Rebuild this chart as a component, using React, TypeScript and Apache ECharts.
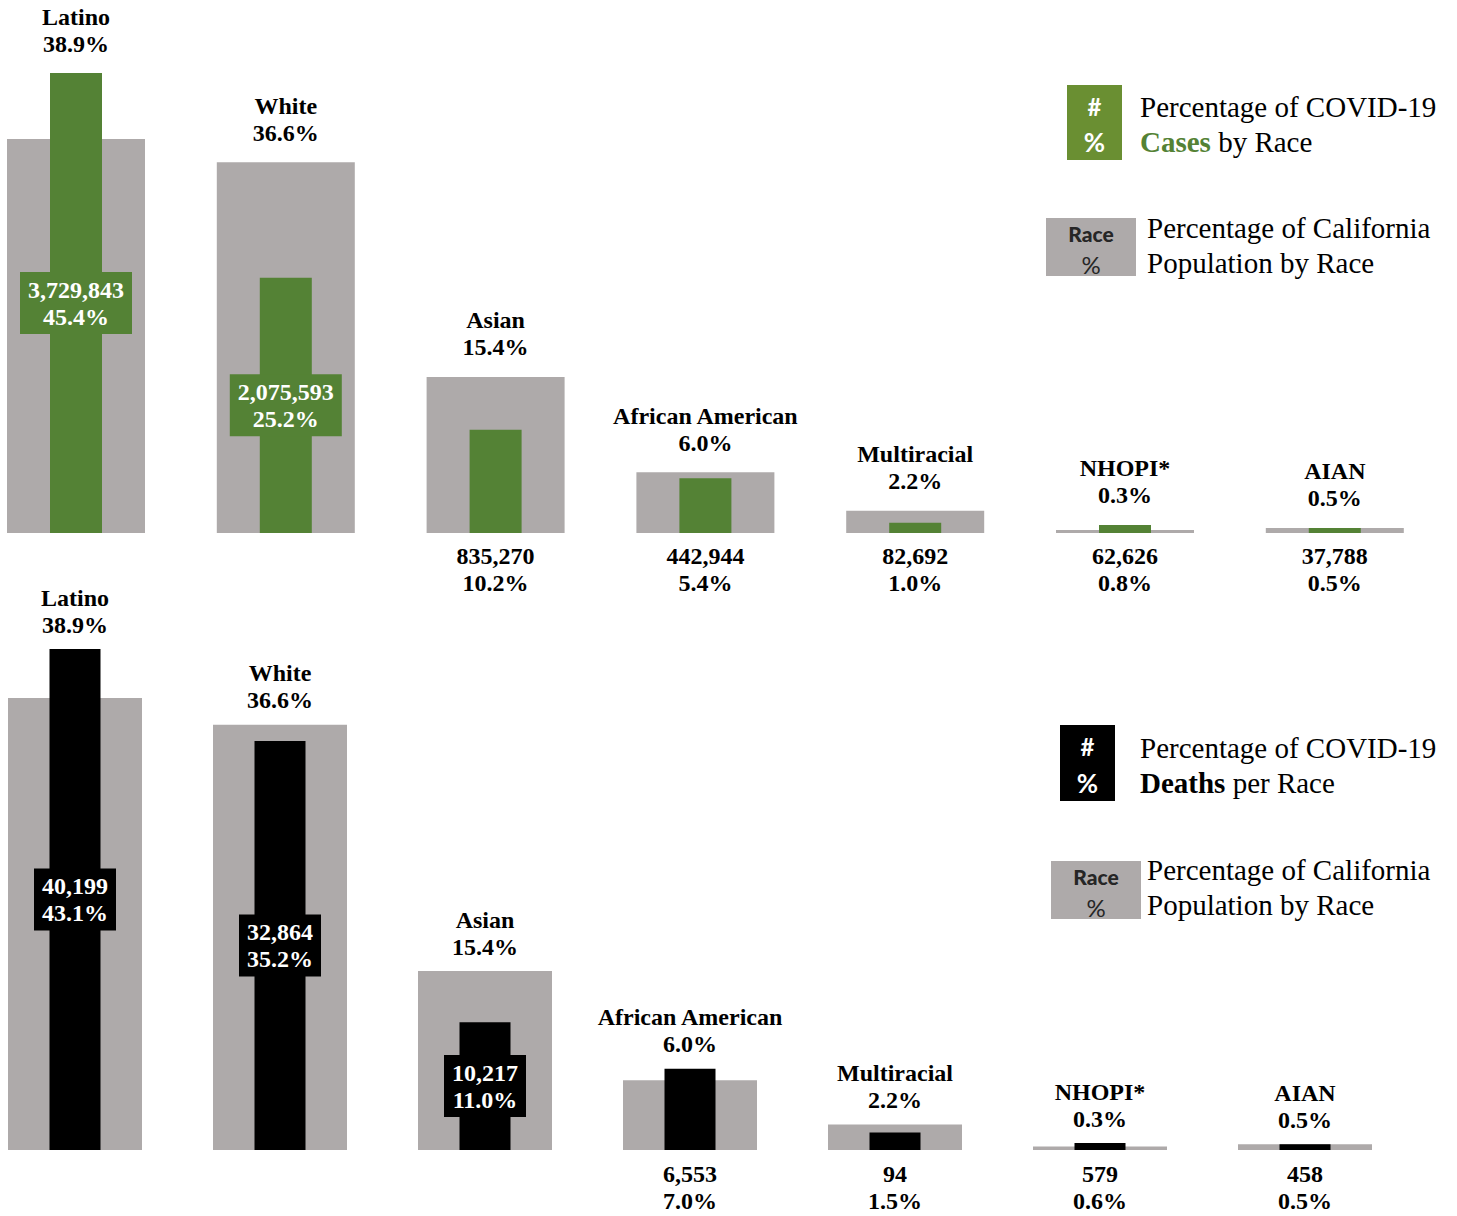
import React, { useEffect, useRef } from "react";
import * as echarts from "echarts";

const races = ["Latino", "White", "Asian", "African American", "Multiracial", "NHOPI*", "AIAN"];
const popPct = [38.9, 36.6, 15.4, 6.0, 2.2, 0.3, 0.5];
const caseCounts = [3729843, 2075593, 835270, 442944, 82692, 62626, 37788];
const casePct = [45.4, 25.2, 10.2, 5.4, 1.0, 0.8, 0.5];
const deathCounts = [40199, 32864, 10217, 6553, 94, 579, 458];
const deathPct = [43.1, 35.2, 11.0, 7.0, 1.5, 0.6, 0.5];

const GREEN = "#548235";
const LEGEND_GREEN = "#6a8f32";
const GRAY = "#aeaaaa";
const BLACK = "#000000";
const SERIF = "Liberation Serif";
const SANS = "Lato";

const fmt = (n: number) => n.toLocaleString("en-US");

function panel(
  p: number,
  counts: number[],
  pcts: number[],
  color: string,
  insideMin: number,
  bottomDist: number,
  topDist: number,
  barW: number,
  grayW: number
) {
  const ax = p * 3;
  const labelBase = {
    show: true,
    fontFamily: SERIF,
    fontWeight: "bold" as const,
    fontSize: 24,
    lineHeight: 27,
    color: "#000",
  };
  return [
    {
      type: "bar",
      xAxisIndex: ax,
      yAxisIndex: p,
      data: popPct,
      barWidth: grayW,
      itemStyle: { color: GRAY },
      z: 1,
      silent: true,
    },
    {
      type: "bar",
      xAxisIndex: ax + 1,
      yAxisIndex: p,
      barWidth: barW,
      itemStyle: { color },
      z: 3,
      silent: true,
      label: {
        ...labelBase,
        formatter: (q: any) => fmt(counts[q.dataIndex]) + "\n" + pcts[q.dataIndex].toFixed(1) + "%",
      },
      data: pcts.map((v) =>
        v >= insideMin
          ? {
              value: v,
              label: {
                position: "inside",
                backgroundColor: color,
                color: "#fff",
                padding: [4, 8],
              },
            }
          : { value: v, label: { position: "bottom", distance: bottomDist, color: "#000" } }
      ),
    },
    {
      type: "bar",
      xAxisIndex: ax + 2,
      yAxisIndex: p,
      barWidth: grayW,
      itemStyle: { color: "rgba(0,0,0,0)" },
      z: 0,
      silent: true,
      label: {
        ...labelBase,
        position: "top",
        distance: topDist,
        formatter: (q: any) => races[q.dataIndex] + "\n" + popPct[q.dataIndex].toFixed(1) + "%",
      },
      data: races.map((_, i) => Math.max(popPct[i], pcts[i])),
    },
  ];
}

function legend(
  boxColor: string,
  box: { x: number; y: number; w: number; h: number },
  line1Top: number,
  word: string,
  wordColor: string,
  rest: string,
  grayBox: { x: number; y: number; w: number; h: number },
  grayTextTop: number
) {
  const cx = box.x + box.w / 2;
  const gx = grayBox.x + grayBox.w / 2;
  return [
    { type: "rect", shape: { x: box.x, y: box.y, width: box.w, height: box.h }, style: { fill: boxColor } },
    {
      type: "text",
      style: { text: "#", x: cx, y: box.y + box.h * 0.28, align: "center", verticalAlign: "middle", fill: "#fff", fontFamily: SANS, fontWeight: "bold", fontSize: 24 },
    },
    {
      type: "text",
      style: { text: "%", x: cx, y: box.y + box.h * 0.76, align: "center", verticalAlign: "middle", fill: "#fff", fontFamily: SANS, fontWeight: "bold", fontSize: 26 },
    },
    {
      type: "text",
      style: {
        text: "Percentage of COVID-19\n{w|" + word + "} " + rest,
        x: 1140,
        y: line1Top,
        align: "left",
        verticalAlign: "top",
        fill: "#000",
        fontFamily: SERIF,
        fontSize: 29,
        lineHeight: 35,
        rich: {
          w: { fill: wordColor, fontWeight: "bold", fontFamily: SERIF, fontSize: 29, lineHeight: 35 },
        },
      },
    },
    { type: "rect", shape: { x: grayBox.x, y: grayBox.y, width: grayBox.w, height: grayBox.h }, style: { fill: GRAY } },
    {
      type: "text",
      style: { text: "Race", x: gx, y: grayBox.y + 15, align: "center", verticalAlign: "middle", fill: "#262626", fontFamily: SANS, fontWeight: 900, fontSize: 21 },
    },
    {
      type: "text",
      style: { text: "%", x: gx, y: grayBox.y + 46, align: "center", verticalAlign: "middle", fill: "#262626", fontFamily: SANS, fontSize: 24 },
    },
    {
      type: "text",
      style: {
        text: "Percentage of California\nPopulation by Race",
        x: 1147,
        y: grayTextTop,
        align: "left",
        verticalAlign: "top",
        fill: "#000",
        fontFamily: SERIF,
        fontSize: 29,
        lineHeight: 35,
      },
    },
  ];
}

export default function App() {
  const ref = useRef<HTMLDivElement>(null);
  useEffect(() => {
    if (!ref.current) return;
    const chart = echarts.init(ref.current, null, { renderer: "svg" });
    const hiddenX = (gridIndex: number) => ({
      type: "category",
      gridIndex,
      data: races,
      show: false,
      boundaryGap: true,
    });
    const hiddenY = (gridIndex: number, max: number) => ({
      type: "value",
      gridIndex,
      min: 0,
      max,
      show: false,
      splitLine: { show: false },
    });
    chart.setOption({
      animation: false,
      backgroundColor: "#ffffff",
      grid: [
        { left: -28.9, width: 1468.6, top: 26.5, height: 506.5, outerBoundsMode: "none", containLabel: false },
        { left: -27.5, width: 1435, top: 627, height: 523, outerBoundsMode: "none", containLabel: false },
      ],
      xAxis: [hiddenX(0), hiddenX(0), hiddenX(0), hiddenX(1), hiddenX(1), hiddenX(1)],
      yAxis: [hiddenY(0, 50), hiddenY(1, 45)],
      series: [
        ...panel(0, caseCounts, casePct, GREEN, 20, 9, 16, 52, 138),
        ...panel(1, deathCounts, deathPct, BLACK, 10, 10, 11, 51, 134),
      ],
      graphic: [
        ...legend(LEGEND_GREEN, { x: 1067, y: 85, w: 55, h: 75 }, 89, "Cases", GREEN, "by Race", { x: 1046, y: 218, w: 90, h: 58 }, 210.5),
        ...legend(BLACK, { x: 1060, y: 725, w: 55, h: 76 }, 730.5, "Deaths", "#000", "per Race", { x: 1051, y: 861, w: 90, h: 58 }, 852.5),
      ],
    });
    return () => chart.dispose();
  }, []);
  return (
    <div
      ref={ref}
      style={{ position: "absolute", left: 0, top: 0, width: 1457, height: 1216, overflow: "hidden" }}
    />
  );
}
